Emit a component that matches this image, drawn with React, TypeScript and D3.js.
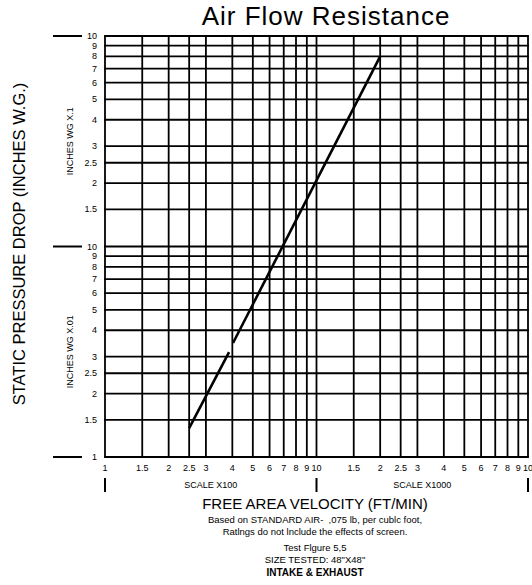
import React, { useEffect, useRef } from "react";
import * as d3 from "d3";

// grid multipliers inside one decade
const gridSteps = [1, 1.5, 2, 2.5, 3, 4, 5, 6, 7, 8, 9, 10];
const xDecades = [100, 1000]; // SCALE X100, SCALE X1000
const yDecades = [0.01, 0.1]; // INCHES WG X.01, INCHES WG X.1
const stepLabels = ["1", "1.5", "2", "2.5", "3", "4", "5", "6", "7", "8", "9", "10"];

// measured curve (velocity ft/min, pressure in. w.g.), drawn with a small gap
const segA = [
  { v: 250, p: 0.0137 },
  { v: 386, p: 0.0315 },
];
const segB = [
  { v: 403, p: 0.0348 },
  { v: 2000, p: 0.8 },
];

const noteLines = [
  "Based on STANDARD AIR-  ,075 lb, per cublc foot,",
  "Ratlngs do not lnclude the effects of screen.",
];
const testLines = ["Test Flgure 5,5", 'SIZE TESTED: 48"X48"'];

const App = () => {
  const svgRef = useRef<SVGSVGElement>(null);

  useEffect(() => {
    const svg = d3.select(svgRef.current);
    svg.selectAll("*").remove();
    const font = "Liberation Sans, Arial, sans-serif";

    const x = d3.scaleLog().domain([100, 10000]).range([105, 528]);
    const y = d3.scaleLog().domain([0.01, 1]).range([457, 36]);

    const g = svg.append("g").attr("font-family", font);

    // grid
    const xVals: number[] = [];
    xDecades.forEach((d, i) =>
      gridSteps.forEach((s, j) => {
        if (i > 0 && j === 0) return;
        xVals.push(d * s);
      })
    );
    const yVals: number[] = [];
    yDecades.forEach((d, i) =>
      gridSteps.forEach((s, j) => {
        if (i > 0 && j === 0) return;
        yVals.push(d * s);
      })
    );

    g.append("g")
      .selectAll("line")
      .data(xVals)
      .join("line")
      .attr("x1", d => x(d))
      .attr("x2", d => x(d))
      .attr("y1", y(0.01))
      .attr("y2", y(1))
      .attr("stroke", "#000")
      .attr("stroke-width", 1.8);

    g.append("g")
      .selectAll("line")
      .data(yVals)
      .join("line")
      .attr("x1", x(100) - 0.9)
      .attr("x2", x(10000) + 0.9)
      .attr("y1", d => y(d))
      .attr("y2", d => y(d))
      .attr("stroke", "#000")
      .attr("stroke-width", 1.8);

    // x tick labels
    const xLab: { v: number; t: string }[] = [];
    xDecades.forEach((d, i) =>
      gridSteps.forEach((s, j) => {
        if (i > 0 && j === 0) return;
        xLab.push({ v: d * s, t: stepLabels[j] });
      })
    );
    g.append("g")
      .selectAll("text")
      .data(xLab)
      .join("text")
      .attr("x", d => x(d.v))
      .attr("y", 471)
      .attr("text-anchor", "middle")
      .attr("font-size", 9)
      .text(d => d.t);

    // y tick labels
    const yLab: { v: number; t: string }[] = [];
    yDecades.forEach((d, i) =>
      gridSteps.forEach((s, j) => {
        if (i > 0 && j === 0) return;
        yLab.push({ v: d * s, t: stepLabels[j] });
      })
    );
    g.append("g")
      .selectAll("text")
      .data(yLab)
      .join("text")
      .attr("x", 97)
      .attr("y", d => y(d.v) + 3)
      .attr("text-anchor", "end")
      .attr("font-size", 9)
      .text(d => d.t);

    // decade markers on the y side
    g.append("g")
      .selectAll("line")
      .data([0.01, 0.1, 1])
      .join("line")
      .attr("x1", 53)
      .attr("x2", 82)
      .attr("y1", d => y(d))
      .attr("y2", d => y(d))
      .attr("stroke", "#000")
      .attr("stroke-width", 2);

    // decade markers under the x axis
    g.append("g")
      .selectAll("line")
      .data([100, 1000, 10000])
      .join("line")
      .attr("x1", d => x(d))
      .attr("x2", d => x(d))
      .attr("y1", 478)
      .attr("y2", 492)
      .attr("stroke", "#000")
      .attr("stroke-width", 2);

    // scale labels
    g.append("g")
      .selectAll("text")
      .data([
        { a: 100, b: 1000, t: "SCALE X100" },
        { a: 1000, b: 10000, t: "SCALE X1000" },
      ])
      .join("text")
      .attr("x", d => (x(d.a) + x(d.b)) / 2)
      .attr("y", 488)
      .attr("text-anchor", "middle")
      .attr("font-size", 9)
      .text(d => d.t);

    g.append("g")
      .selectAll("text")
      .data([
        { a: 0.01, b: 0.1, t: "INCHES WG X.01" },
        { a: 0.1, b: 1, t: "INCHES WG X.1" },
      ])
      .join("text")
      .attr("transform", d => `translate(73,${(y(d.a) + y(d.b)) / 2}) rotate(-90)`)
      .attr("text-anchor", "middle")
      .attr("font-size", 9)
      .text(d => d.t);

    // curve
    const line = d3
      .line<{ v: number; p: number }>()
      .x(d => x(d.v))
      .y(d => y(d.p));
    [segA, segB].forEach(seg =>
      g.append("path")
        .datum(seg)
        .attr("fill", "none")
        .attr("stroke", "#000")
        .attr("stroke-width", 2.6)
        .attr("d", line)
    );

    // titles
    g.append("text")
      .attr("x", 326)
      .attr("y", 25)
      .attr("text-anchor", "middle")
      .attr("font-size", 26)
      .attr("letter-spacing", 1)
      .text("Air Flow Resistance");

    g.append("text")
      .attr("transform", "translate(25,244) rotate(-90)")
      .attr("text-anchor", "middle")
      .attr("font-size", 16.5)
      .text("STATIC PRESSURE DROP (INCHES W.G.)");

    g.append("text")
      .attr("x", 315)
      .attr("y", 509)
      .attr("text-anchor", "middle")
      .attr("font-size", 15)
      .text("FREE AREA VELOCITY (FT/MIN)");

    g.append("g")
      .selectAll("text")
      .data(noteLines)
      .join("text")
      .attr("x", 315)
      .attr("y", (d, i) => 523 + i * 12)
      .attr("text-anchor", "middle")
      .attr("font-size", 9.5)
      .style("white-space", "pre")
      .text(d => d);

    g.append("g")
      .selectAll("text")
      .data(testLines)
      .join("text")
      .attr("x", 315)
      .attr("y", (d, i) => 551 + i * 12)
      .attr("text-anchor", "middle")
      .attr("font-size", 9.5)
      .text(d => d);

    g.append("text")
      .attr("x", 315)
      .attr("y", 576)
      .attr("text-anchor", "middle")
      .attr("font-size", 10)
      .attr("font-weight", "bold")
      .text("INTAKE & EXHAUST");
  }, []);

  return (
    <svg
      ref={svgRef}
      width={532}
      height={585}
      style={{ position: "absolute", left: 0, top: 0, background: "#fff" }}
    />
  );
};

export default App;
